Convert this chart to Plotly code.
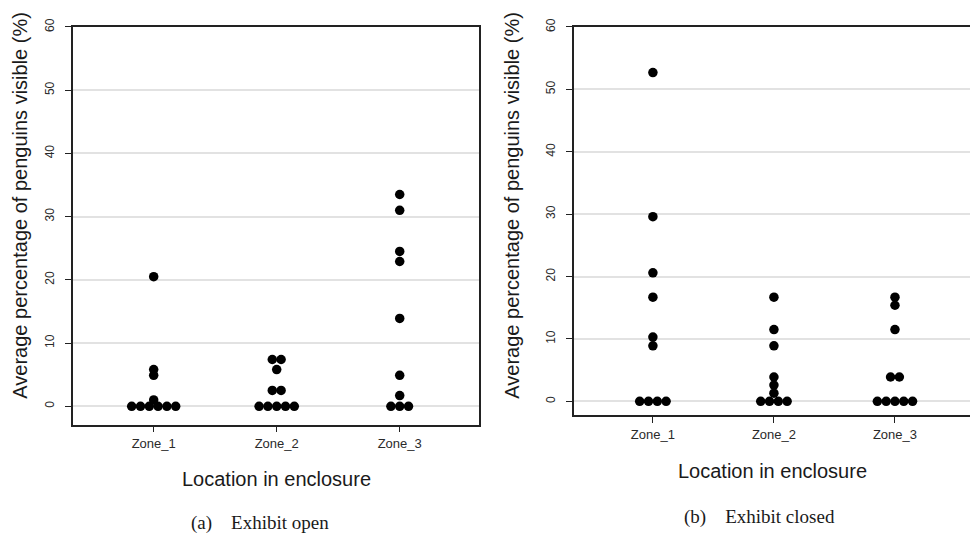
import plotly.graph_objects as go
from collections import Counter

# ---------------- data ----------------
zones = ["Zone_1", "Zone_2", "Zone_3"]
y_ticks = [0, 10, 20, 30, 40, 50, 60]

open_zone1 = [20.5, 5.8, 4.9, 1.0, 0, 0, 0, 0, 0, 0]
open_zone2 = [7.4, 7.4, 5.8, 2.5, 2.5, 0, 0, 0, 0, 0]
open_zone3 = [33.5, 31.0, 24.5, 22.9, 13.9, 4.9, 1.7, 0, 0, 0]

closed_zone1 = [52.7, 29.6, 20.6, 16.7, 10.3, 8.9, 0, 0, 0, 0]
closed_zone2 = [16.7, 11.5, 8.9, 3.9, 2.6, 1.3, 0, 0, 0, 0]
closed_zone3 = [16.7, 15.4, 11.5, 3.9, 3.9, 0, 0, 0, 0, 0]

captions = ["(a)\u2003Exhibit open", "(b)\u2003Exhibit closed"]
x_title = "Location in enclosure"
y_title = "Average percentage of penguins visible (%)"

W, H = 970, 536
FONT = "Liberation Sans, Arial, sans-serif"
SERIF = "Liberation Serif, Times New Roman, serif"
AX = "#222222"


def swarm(values, idx, step):
    """Spread tied values symmetrically around the category position."""
    cnt = Counter(values)
    seen = Counter()
    xs = []
    for v in values:
        n = cnt[v]
        k = seen[v]
        seen[v] += 1
        xs.append(idx + (k - (n - 1) / 2) * step)
    return xs


fig = go.Figure()

panels = [
    dict(data=[open_zone1, open_zone2, open_zone3], xa="x", ya="y", step=8.8 / 123),
    dict(data=[closed_zone1, closed_zone2, closed_zone3], xa="x2", ya="y2", step=8.8 / 121),
]
for p in panels:
    for i, vals in enumerate(p["data"]):
        fig.add_trace(go.Scatter(
            x=swarm(vals, i + 1, p["step"]), y=vals, mode="markers",
            marker=dict(color="black", size=9.5, line=dict(width=0)),
            xaxis=p["xa"], yaxis=p["ya"], showlegend=False, hoverinfo="y",
        ))

xcommon = dict(
    tickmode="array", tickvals=[1, 2, 3], ticktext=zones,
    showgrid=False, zeroline=False, showline=True, linecolor=AX, linewidth=1.5,
    ticks="outside", ticklen=6, tickwidth=1.2, tickcolor=AX,
    tickfont=dict(family=FONT, size=13, color="#2a2a2a"), mirror=True,
)
ycommon = dict(
    tickmode="array", tickvals=y_ticks, ticktext=[str(t) for t in y_ticks],
    showgrid=True, gridcolor="#e2e2e2", gridwidth=1.5, zeroline=False,
    showline=True, linecolor=AX, linewidth=1.5,
    ticks="outside", ticklen=6, tickwidth=1.2, tickcolor=AX, tickangle=-90,
    tickfont=dict(family=FONT, size=12, color="#2a2a2a"), ticklabelstandoff=6,
)

fig.update_layout(
    width=W, height=H, margin=dict(l=0, r=0, t=0, b=0),
    paper_bgcolor="white", plot_bgcolor="white",
    xaxis=dict(xcommon, domain=[73 / W, 479.3 / W], range=[0.344, 3.647], anchor="y"),
    yaxis=dict(ycommon, domain=[1 - 422.7 / H, 1 - 18.3 / H], range=[-2.9, 60], anchor="x", mirror=True),
    xaxis2=dict(xcommon, domain=[573.5 / W, 1.0], range=[0.344, 3.62], anchor="y2"),
    yaxis2=dict(ycommon, domain=[1 - 413.3 / H, 1 - 18.3 / H], range=[-2.25, 60], anchor="x2", mirror=False),
)

ann = []
# y titles
for xpx in (20, 512):
    ann.append(dict(x=xpx / W, y=1 - 200 / H, xref="paper", yref="paper", text=y_title,
                    textangle=-90, showarrow=False, xanchor="center", yanchor="middle",
                    font=dict(family=FONT, size=20, color="#1a1a1a")))
# x titles
for xpx, ypx in ((276, 478), (772, 470)):
    ann.append(dict(x=xpx / W, y=1 - ypx / H, xref="paper", yref="paper", text=x_title,
                    showarrow=False, xanchor="center", yanchor="middle",
                    font=dict(family=FONT, size=20, color="#1a1a1a")))
# captions
for txt, xpx, ypx in ((captions[0], 260, 523), (captions[1], 759, 517)):
    ann.append(dict(x=xpx / W, y=1 - ypx / H, xref="paper", yref="paper", text=txt,
                    showarrow=False, xanchor="center", yanchor="middle",
                    font=dict(family=SERIF, size=19, color="#1a1a1a")))
fig.update_layout(annotations=ann)

fig.write_html("out.html", config={"displayModeBar": False},
               post_script="document.body.style.margin='0';")
